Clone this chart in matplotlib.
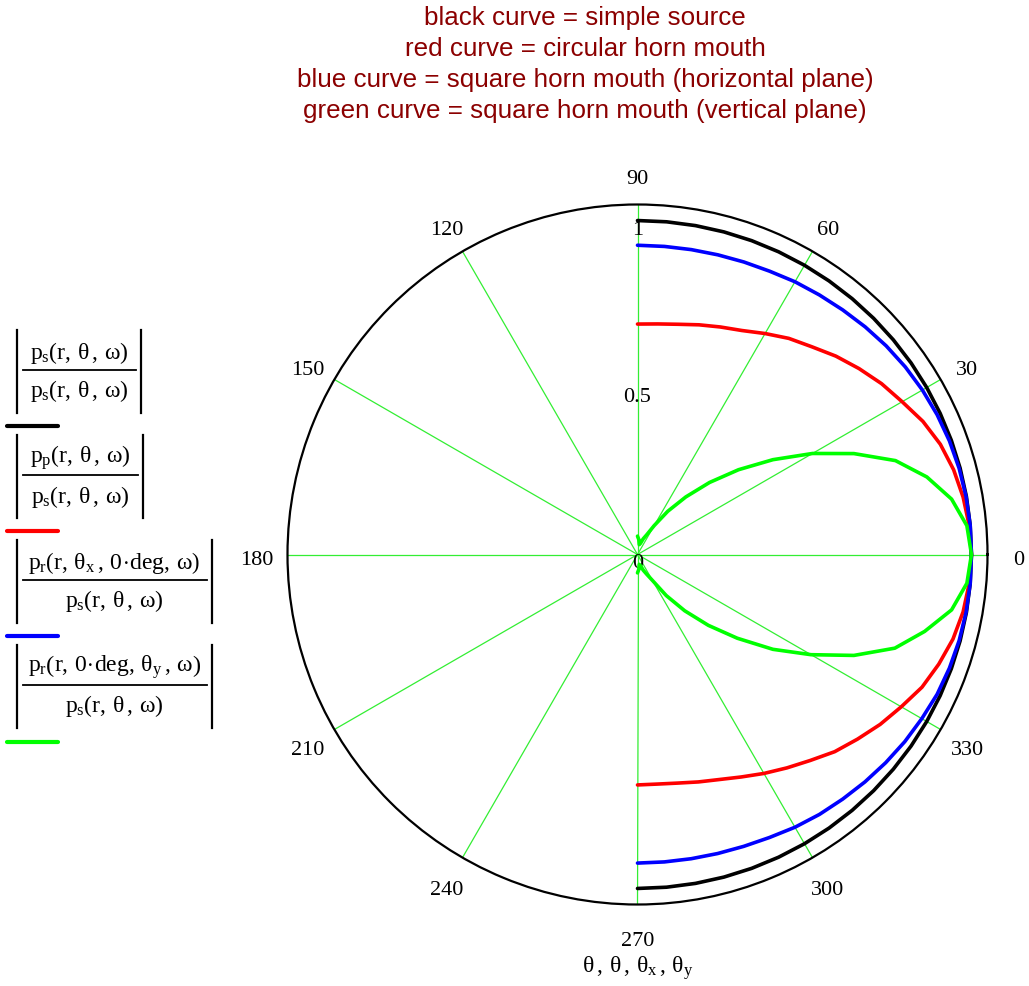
import numpy as np
import matplotlib
matplotlib.use("Agg")
import matplotlib.pyplot as plt
from matplotlib.transforms import offset_copy

# upright serif maths, like the worksheet output
plt.rcParams["font.family"] = "Liberation Serif"
plt.rcParams["mathtext.fontset"] = "custom"
plt.rcParams["mathtext.rm"] = "Liberation Serif"
plt.rcParams["mathtext.it"] = "Liberation Serif"
plt.rcParams["mathtext.bf"] = "Liberation Serif:bold"

# angle (deg) and normalised pressure ratio for each curve
angles_deg = [-90, -85, -80, -75, -70, -65, -60, -55, -50, -45, -40, -35, -30,
              -25, -20, -15, -10, -5, 0, 5, 10, 15, 20, 25, 30, 35, 40, 45,
              50, 55, 60, 65, 70, 75, 80, 85, 90]

simple_source = [1.0] * 37

circular_mouth = [0.690, 0.690, 0.695, 0.705, 0.717, 0.735, 0.757, 0.780, 0.805,
                  0.835, 0.860, 0.887, 0.912, 0.940, 0.960, 0.978, 0.990, 0.997,
                  1.000,
                  0.997, 0.990, 0.980, 0.965, 0.943, 0.915, 0.892, 0.866, 0.840,
                  0.812, 0.790, 0.764, 0.740, 0.725, 0.712, 0.700, 0.693, 0.690]

square_horizontal = [0.924, 0.924, 0.925, 0.927, 0.930, 0.935, 0.943, 0.950, 0.956,
                     0.963, 0.970, 0.977, 0.983, 0.990, 0.994, 0.997, 0.999, 1.000,
                     1.000,
                     1.000, 0.999, 0.997, 0.994, 0.990, 0.985, 0.979, 0.972, 0.964,
                     0.956, 0.949, 0.943, 0.936, 0.932, 0.929, 0.927, 0.926, 0.926]

square_vertical = [0.055, 0.045, 0.030, 0.035, 0.050, 0.065, 0.090, 0.150, 0.220,
                   0.300, 0.390, 0.495, 0.600, 0.715, 0.820, 0.890, 0.955, 0.990,
                   1.000,
                   0.990, 0.955, 0.897, 0.822, 0.715, 0.605, 0.495, 0.395, 0.305,
                   0.225, 0.158, 0.100, 0.065, 0.050, 0.035, 0.030, 0.045, 0.055]

angle_ticks = [0, 30, 60, 90, 120, 150, 180, 210, 240, 270, 300, 330]
radial_ticks = [0, 0.5, 1]
radial_tick_labels = ["0", "0.5", "1"]

title_lines = ["black curve = simple source",
               "red curve = circular horn mouth",
               "blue curve = square horn mouth (horizontal plane)",
               "green curve = square horn mouth (vertical plane)"]

ps = r"p_{s}(r,\,\theta\,,\,\omega)"
legend_num = [
    "$" + ps + "$",
    r"$p_{p}(r,\,\theta\,,\,\omega)$",
    r"$p_{r}\left(r,\,\theta_{x}\,,\,0\!\cdot\!\mathrm{deg},\,\omega\right)$",
    r"$p_{r}\left(r,\,0\!\cdot\!\mathrm{deg},\,\theta_{y}\,,\,\omega\right)$",
]
legend_den = ["$" + ps + "$"] * 4
curve_colors = ["black", "#ff0000", "#0000ff", "#00ff00"]

W, H = 1029, 986
fig = plt.figure(figsize=(W / 100, H / 100), dpi=100)

# polar plot: centre (637.5, 554.5) px, outer radius 350 px
cx, cy, R = 637.5, 554.5, 350
ax = fig.add_axes([(cx - R) / W, (H - cy - R) / H, 2 * R / W, 2 * R / H],
                  projection="polar")
rmax = 1.048
ax.set_ylim(0, rmax)
ax.grid(False)
ax.set_xticks([])
ax.set_yticks([])
ax.spines["polar"].set_linewidth(1.6)

for a in angle_ticks:
    ax.plot([np.deg2rad(a), np.deg2rad(a)], [0, rmax], color="#33ee33", lw=0.9, zorder=1)

theta = np.deg2rad(angles_deg)
for series, col in zip([simple_source, circular_mouth, square_horizontal, square_vertical],
                       curve_colors):
    ax.plot(theta, series, color=col, lw=2.6, zorder=3, solid_capstyle="round")

# angle labels around the rim
lbl_tr = offset_copy(ax.transData, fig=fig, x=0, y=-6, units="dots")
for a in angle_ticks:
    ax.text(np.deg2rad(a), 1.14, str(a), transform=lbl_tr, ha="center", va="center",
            fontsize=16, clip_on=False)

# radial labels up the 90 deg spoke
for v, t in zip(radial_ticks, radial_tick_labels):
    ax.text(np.pi / 2, v, t, ha="center", va="top", fontsize=16, zorder=2)

fig.text(cx / W, 1 - 968 / H, r"$\theta\,,\,\theta\,,\,\theta_{x}\,,\,\theta_{y}$",
         ha="center", va="center", fontsize=17)

for i, line in enumerate(title_lines):
    fig.text(585 / W, 1 - (18 + 31 * i) / H, line, ha="center", va="center",
             fontsize=18.7, color="#8b0000", family="Liberation Sans")


def fy(y):
    return 1 - y / H


def hline(x0, x1, y, **kw):
    fig.add_artist(plt.Line2D([x0 / W, x1 / W], [fy(y), fy(y)],
                              transform=fig.transFigure, **kw))


def vline(x, y0, y1, **kw):
    fig.add_artist(plt.Line2D([x / W, x / W], [fy(y0), fy(y1)],
                              transform=fig.transFigure, **kw))


# legend: |numerator / denominator| with a coloured key line below
centres = [371.5, 476.5, 581.5, 686]
right_bar = [141, 143, 212, 212]
key_y = [426, 531, 636, 742]
for num, den, c, rb, ky, col in zip(legend_num, legend_den, centres, right_bar,
                                    key_y, curve_colors):
    mid = (17 + rb) / 2
    vline(17, c - 41.5, c + 41.5, color="black", lw=1.6)
    vline(rb, c - 41.5, c + 41.5, color="black", lw=1.6)
    hline(23, rb - 5, c - 1.5, color="black", lw=1.3)
    fig.text(mid / W, fy(c - 19), num, ha="center", va="center", fontsize=17)
    fig.text(mid / W, fy(c + 20), den, ha="center", va="center", fontsize=17)
    hline(7, 58, ky, color=col, lw=3, solid_capstyle="round")

fig.savefig("out.png", dpi=100)
